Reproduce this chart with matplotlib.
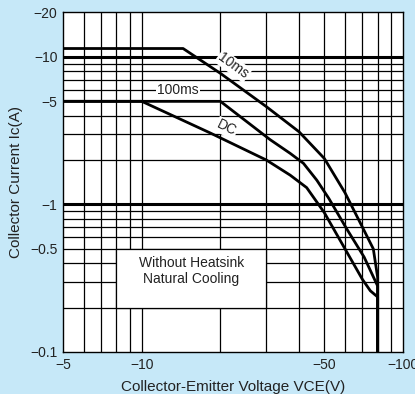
import matplotlib
matplotlib.use("Agg")
import matplotlib.pyplot as plt
from matplotlib.patches import Rectangle

# Safe operating area (magnitudes, axis labels are negative)
ten_ms_v = [5, 14.4, 20, 30, 40, 50, 60, 70, 77, 80, 80]
ten_ms_i = [11.4, 11.4, 7.74, 4.6, 3.11, 2.05, 1.2, 0.7, 0.5, 0.32, 0.1]

hundred_ms_v = [5, 20, 31, 37, 41.6, 46.8, 52, 61, 71, 80, 80]
hundred_ms_i = [5, 5, 2.75, 2.22, 1.9, 1.46, 1.1, 0.68, 0.44, 0.28, 0.1]

dc_v = [5, 10, 18.3, 30, 37, 42.8, 50, 60, 70, 75, 80, 80]
dc_i = [5, 5, 3.05, 2.0, 1.58, 1.3, 0.88, 0.5, 0.31, 0.26, 0.236, 0.1]

x_ticks = [5, 10, 50, 100]
x_labels = ["\u22125", "\u221210", "\u221250", "\u2212100"]
y_ticks = [0.1, 0.5, 1, 5, 10, 20]
y_labels = ["\u22120.1", "\u22120.5", "\u22121", "\u22125", "\u221210", "\u221220"]

x_grid = [6, 7, 8, 9, 10, 20, 30, 40, 50, 60, 70, 80, 90]
y_grid = [0.2, 0.3, 0.4, 0.5, 0.6, 0.7, 0.8, 0.9, 2, 3, 4, 5, 6, 7, 8, 9]
y_grid_bold = [1, 10]

bg = "#c6e8f8"
ink = "#222222"
plt.rcParams["font.family"] = ["Liberation Sans", "DejaVu Sans"]

fig = plt.figure(figsize=(4.15, 3.94), dpi=100, facecolor=bg)
ax = fig.add_axes([0.152, 0.1066, 0.819, 0.8617])
ax.set_facecolor("white")
ax.set_xscale("log")
ax.set_yscale("log")
ax.set_xlim(5, 100)
ax.set_ylim(0.1, 20)

# grid
for v in x_grid:
    ax.axvline(v, color="black", lw=0.9, zorder=1)
for v in y_grid:
    ax.axhline(v, color="black", lw=0.9, zorder=1)
for v in y_grid_bold:
    ax.axhline(v, color="black", lw=2.2, zorder=1)

# note box
ax.add_patch(Rectangle((8, 0.2), 22, 0.3, facecolor="white", edgecolor="black",
                       lw=0.9, zorder=2))
ax.text(15.5, 0.355, "Without Heatsink\nNatural Cooling", ha="center", va="center",
        fontsize=10, linespacing=1.2, color=ink, zorder=3)

# curves
for vs, cs in [(ten_ms_v, ten_ms_i), (hundred_ms_v, hundred_ms_i), (dc_v, dc_i)]:
    ax.plot(vs, cs, color="black", lw=2.0, zorder=4, solid_joinstyle="round")

lbl = dict(fontsize=10, ha="center", va="center", color=ink, zorder=5,
           bbox=dict(facecolor="white", edgecolor="none", pad=0.8))
ax.text(22.4, 8.7, "10ms", rotation=-36, **lbl)
ax.text(13.8, 6.0, "100ms", **lbl)
ax.text(21.1, 3.3, "DC", rotation=-26, **lbl)

ax.set_xticks(x_ticks)
ax.set_xticklabels(x_labels)
ax.set_yticks(y_ticks)
ax.set_yticklabels(y_labels)
ax.minorticks_off()
ax.tick_params(length=0, labelsize=10, pad=4, colors=ink)
for s in ax.spines.values():
    s.set_linewidth(1.0)
    s.set_zorder(6)

ax.set_xlabel("Collector-Emitter Voltage VCE(V)", fontsize=11, color=ink, labelpad=6)
ax.set_ylabel("Collector Current Ic(A)", fontsize=11, color=ink, labelpad=5)

fig.savefig("out.png", dpi=100, facecolor=bg)
